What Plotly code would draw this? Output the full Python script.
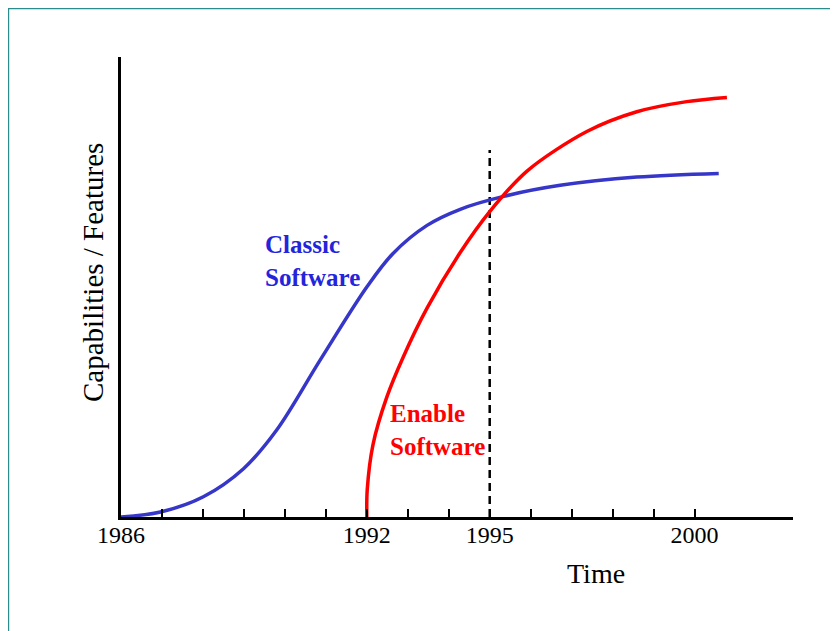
import plotly.graph_objects as go

# Data
classic_years = [1986.0, 1986.99, 1988.01, 1988.99, 1989.80, 1990.86, 1992.0,
                 1992.64, 1993.47, 1994.28, 1995.34, 1996.72, 1998.59, 2000.59]
classic_vals = [0.0, 1.15, 4.4, 10.5, 18.9, 34.1, 50.0,
                57.3, 63.4, 66.9, 69.7, 72.1, 73.9, 74.7]

enable_years = [1992.0, 1992.01, 1992.15, 1992.49, 1992.89, 1993.47, 1994.28,
                1995.01, 1995.91, 1997.37, 1998.59, 1999.81, 2000.79]
enable_vals = [0.0, 5.9, 15.7, 26.1, 34.8, 45.4, 57.5,
               66.5, 75.2, 83.8, 88.1, 90.3, 91.2]

marker_year = [1995, 1995]
marker_vals = [0, 79.8]

tick_years = list(range(1986, 2001))
tick_labels = ["1986", "", "", "", "", "", "1992", "", "", "1995", "", "", "", "", "2000"]

SERIF = "Liberation Serif, Times New Roman, serif"

fig = go.Figure()
fig.add_trace(go.Scatter(x=marker_year, y=marker_vals, mode="lines",
                         line=dict(color="black", width=2.5, dash="8px,5px"),
                         hoverinfo="skip", showlegend=False))
fig.add_trace(go.Scatter(x=classic_years, y=classic_vals, mode="lines",
                         line=dict(color="#3636C8", width=3.5, shape="spline", smoothing=1),
                         name="Classic Software", showlegend=False, cliponaxis=False))
fig.add_trace(go.Scatter(x=enable_years, y=enable_vals, mode="lines",
                         line=dict(color="#FF0000", width=3.5, shape="spline", smoothing=0.9),
                         name="Enable Software", showlegend=False, cliponaxis=False))

OFF = 8  # page body margin
W, H = 838 - OFF, 631 - OFF
L, R, T, B = 121, 792.7, 57, 517   # reference page pixels
pw, ph = R - L, B - T

def px(x):
    return (x - L) / pw

def py(y):
    return (B - y) / ph

fig.update_layout(
    width=W, height=H, autosize=False,
    margin=dict(l=L - OFF, r=W - (R - OFF), t=T - OFF, b=H - (B - OFF), pad=0),
    paper_bgcolor="white", plot_bgcolor="white",
    font=dict(family=SERIF, color="black", size=20),
    xaxis=dict(range=[1986, 1986 + pw / 40.95], tickmode="array", tickvals=tick_years,
               ticktext=tick_labels, ticks="inside", ticklen=8, tickwidth=1.5, tickcolor="black",
               showline=True, linecolor="black", linewidth=2.5, showgrid=False, zeroline=False,
               ticklabelstandoff=-6,
               tickfont=dict(family=SERIF, size=24, color="black")),
    yaxis=dict(range=[0, 100], showticklabels=False, ticks="", showline=True, linecolor="black",
               linewidth=2.5, showgrid=False, zeroline=False),
    annotations=[
        dict(text="Time", x=px(596), y=py(573), xref="paper", yref="paper",
             xanchor="center", yanchor="middle",
             showarrow=False, font=dict(family=SERIF, size=28, color="black")),
        dict(text="Capabilities / Features", x=px(93), y=py(272), xref="paper", yref="paper",
             xanchor="center", yanchor="middle",
             showarrow=False, textangle=-90, font=dict(family=SERIF, size=29, color="black")),
        dict(text="<b>Classic<br>Software</b>", x=px(263), y=py(261), xref="paper", yref="paper",
             xanchor="left", yanchor="middle", align="left", showarrow=False,
             font=dict(family=SERIF, size=25, color="#2424DC")),
        dict(text="<b>Enable<br>Software</b>", x=px(388), y=py(430), xref="paper", yref="paper",
             xanchor="left", yanchor="middle", align="left", showarrow=False,
             font=dict(family=SERIF, size=25, color="#FF0000")),
    ],
    shapes=[
        dict(type="rect", xref="paper", yref="paper", x0=px(8), x1=px(900), y0=py(700), y1=py(8),
             line=dict(color="#2A8C8C", width=2.5), fillcolor="rgba(0,0,0,0)", layer="below"),
    ],
)

fig.write_html("out.html")
